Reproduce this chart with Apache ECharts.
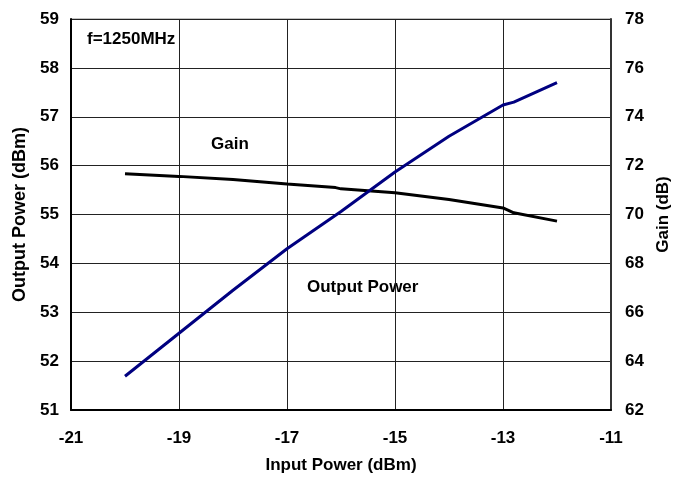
<!DOCTYPE html>
<html><head><meta charset="utf-8">
<script src="https://cdn.jsdelivr.net/npm/echarts@6/dist/echarts.min.js"></script>
<style>html,body{margin:0;padding:0;background:#fff}#c{width:680px;height:479px}</style>
</head><body><div id="c"></div>
<script>
const inputPower = [-20, -19, -18, -17, -16, -15, -14, -13, -12.8, -12];
const outputPower = [51.69, 52.57, 53.45, 54.3, 55.06, 55.87, 56.6, 57.24, 57.3, 57.7];
const gainX = [-20, -19, -18, -17, -16.1, -16, -15, -14, -13, -12.8, -12];
const gain = [71.67, 71.56, 71.43, 71.25, 71.1, 71.05, 70.89, 70.61, 70.27, 70.07, 69.73];
const xTicks = [-21, -19, -17, -15, -13, -11];

const font = 'Liberation Sans, Arial, sans-serif';
const chart = echarts.init(document.getElementById('c'));
chart.setOption({
  animation: false,
  backgroundColor: '#fff',
  grid: {left: 71, right: 69, top: 19, bottom: 68, show: true, borderColor: '#888', borderWidth: 1},
  xAxis: {
    type: 'value', min: -21, max: -11, interval: 2,
    name: 'Input Power (dBm)', nameLocation: 'middle', nameGap: 47,
    nameTextStyle: {fontFamily: font, fontWeight: 'bold', fontSize: 17, color: '#000'},
    axisLine: {show: true, lineStyle: {color: '#000', width: 2}},
    axisTick: {show: false},
    axisLabel: {margin: 20, fontFamily: font, fontWeight: 'bold', fontSize: 17, color: '#000',
      formatter: v => xTicks.includes(v) ? String(v) : ''},
    splitLine: {show: true, lineStyle: {color: '#222', width: 1}}
  },
  yAxis: [{
    type: 'value', min: 51, max: 59, interval: 1,
    name: 'Output Power (dBm)', nameLocation: 'middle', nameGap: 38, nameRotate: 90,
    nameTextStyle: {fontFamily: font, fontWeight: 'bold', fontSize: 18, color: '#000'},
    axisLine: {show: true, lineStyle: {color: '#000', width: 2}},
    axisTick: {show: false},
    axisLabel: {margin: 12, fontFamily: font, fontWeight: 'bold', fontSize: 17, color: '#000'},
    splitLine: {show: true, lineStyle: {color: '#222', width: 1}}
  }, {
    type: 'value', min: 62, max: 78, interval: 2, position: 'right',
    name: 'Gain (dB)', nameLocation: 'middle', nameGap: 42, nameRotate: 90,
    nameTextStyle: {fontFamily: font, fontWeight: 'bold', fontSize: 17, color: '#000'},
    axisLine: {show: true, lineStyle: {color: '#333', width: 2}},
    axisTick: {show: false},
    axisLabel: {margin: 14, fontFamily: font, fontWeight: 'bold', fontSize: 17, color: '#000'},
    splitLine: {show: false}
  }],
  series: [{
    name: 'Output Power', type: 'line', yAxisIndex: 0, showSymbol: false,
    data: inputPower.map((x, i) => [x, outputPower[i]]),
    lineStyle: {color: '#000080', width: 3}, z: 3
  }, {
    name: 'Gain', type: 'line', yAxisIndex: 1, showSymbol: false,
    data: gainX.map((x, i) => [x, gain[i]]),
    lineStyle: {color: '#000', width: 3}, z: 2
  }],
  graphic: [
    {type: 'text', left: 87, top: 31, style: {text: 'f=1250MHz', font: 'bold 17px ' + font, fill: '#000'}},
    {type: 'text', left: 211, top: 136, style: {text: 'Gain', font: 'bold 17px ' + font, fill: '#000'}},
    {type: 'text', left: 305, top: 276, style: {text: 'Output Power', font: 'bold 17px ' + font, fill: '#000', backgroundColor: '#fff', padding: [3, 2]}}
  ]
});
</script></body></html>
